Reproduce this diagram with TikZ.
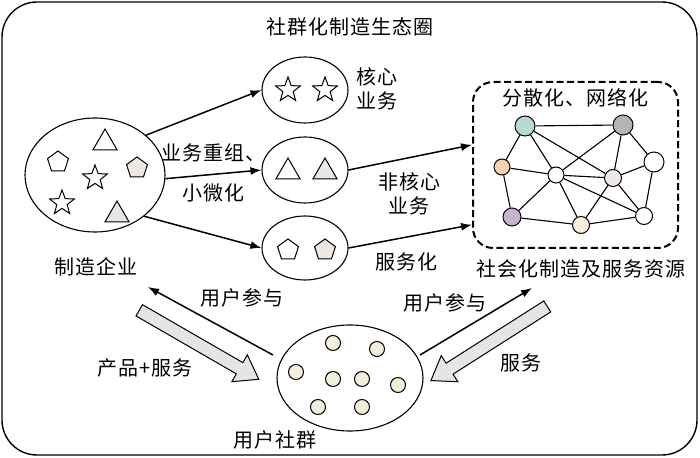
\documentclass[tikz,border=0pt]{standalone}
\usepackage{fontspec}
\setmainfont[LetterSpace=5]{Noto Sans CJK SC}
\usetikzlibrary{shapes.geometric,shapes.arrows,arrows.meta,calc}

\definecolor{nteal}{HTML}{B6D9D3}
\definecolor{ngray}{HTML}{B8B3AE}
\definecolor{norange}{HTML}{F5D2AC}
\definecolor{npink}{HTML}{EEE6E7}
\definecolor{npurple}{HTML}{C5B6CF}
\definecolor{ncream}{HTML}{F6EFDA}
\definecolor{udot}{HTML}{F2EEDC}
\definecolor{shadegray}{HTML}{E6E6E3}
\definecolor{shadepink}{HTML}{EFE6E6}

\begin{document}
\begin{tikzpicture}[x=1pt,y=1pt,font=\fontsize{20}{24}\selectfont,
    blob/.style={draw,ellipse,line width=1.1pt,inner sep=0pt},
    tri/.style={draw,regular polygon,regular polygon sides=3,minimum size=28pt,inner sep=0pt,line width=1pt},
    pent/.style={draw,regular polygon,regular polygon sides=5,minimum size=22pt,inner sep=0pt,line width=1pt},
    starr/.style={draw,star,star points=5,star point ratio=2.4,minimum size=26pt,inner sep=0pt,line width=1pt},
    dot/.style={draw,circle,inner sep=0pt,line width=1pt},
    link/.style={line width=1.5pt,-{Latex[length=11pt,width=8pt]}},
    fat/.style={draw,single arrow,fill=black!10,line width=1pt,inner sep=6pt,minimum height=138pt,
                single arrow head extend=9pt,single arrow tip angle=70}]
    \useasboundingbox (0,0) rectangle (700,457);
    \draw[line width=1.4pt,rounded corners=35pt] (2,2) rectangle (697,455);
    \node (title) at (350,430) {社群化制造生态圈};

    % manufacturing firm
    \node[blob,minimum width=140pt,minimum height=114pt] (firm) at (95,282) {};
    \node[pent] (fp1) at (58,295) {};
    \node[tri] (ft1) at (105,314) {};
    \node[starr] (fs1) at (95,279) {};
    \node[pent,fill=shadepink] (fp2) at (137,289) {};
    \node[starr] (fs2) at (62,254) {};
    \node[tri,fill=shadegray] (ft2) at (117,242) {};
    \node (firmlab) at (96,190) {制造企业};

    % split businesses
    \node[blob,minimum width=86pt,minimum height=66pt] (core) at (305,367) {};
    \node[blob,minimum width=86pt,minimum height=66pt] (tri) at (305,287) {};
    \node[blob,minimum width=86pt,minimum height=64pt] (svc) at (305,209) {};
    \foreach \x in {288,325} \node[starr] (cs\x) at (\x,367) {};
    \node[tri] (tt1) at (288,285) {};
    \node[tri,fill=shadegray] (tt2) at (325,285) {};
    \node[pent] (sp1) at (288,207) {};
    \node[pent,fill=shadepink] (sp2) at (325,207) {};
    \node[align=left] (corelab) at (377,368) {核心\\业务};

    \draw[link] (firm.38) -- (core.west);
    \draw[link] (firm.-3) -- (tri.west);
    \draw[link] (firm.-40) -- (svc.west);
    \node (reorg) at (213,304) {业务重组、};
    \node (small) at (213,264) {小微化};

    % network of resources
    \node[draw,dashed,line width=2pt,dash pattern=on 7pt off 3.5pt,rounded corners=20pt,
          minimum width=205pt,minimum height=166pt] (net) at (575.5,292) {};
    \node (netlab) at (575,359) {分散化、网络化};
    \foreach \n/\x/\y/\d/\c in {a/525/331/20/nteal, b/623/332/20/ngray, c/654/295/20/white,
        d/502/290/16/norange, e/556/282/16/white, f/613/279/17/npink,
        g/512/240/18/npurple, h/581/232/17/ncream, i/644/241/17/white}
        \node[dot,fill=\c,minimum size=\d pt] (\n) at (\x,\y) {};
    \foreach \u/\v in {a/b,a/d,a/e,a/f,b/e,b/f,b/c,c/f,c/i,d/e,d/g,e/f,e/g,e/h,e/i,f/h,f/i,g/h,h/i}
        \draw[line width=1.1pt] (\u) -- (\v);
    \node (reslab) at (581,188) {社会化制造及服务资源};

    \draw[link] (tri.east) -- (net.169);
    \draw[link] (svc.east) -- (net.210);
    \node[align=center] (noncore) at (409,263) {非核心\\业务};
    \node (svclab) at (406,195) {服务化};

    % user community
    \node[blob,minimum width=146pt,minimum height=106pt] (users) at (350,79) {};
    \foreach \x/\y [count=\k] in {333/114,377/108,296/85,333/78,362/78,398/72,318/50,362/50}
        \node[dot,fill=udot,minimum size=15pt] (u\k) at (\x,\y) {};
    \node (userlab) at (275,17) {用户社群};

    % flows
    \coordinate (pl0) at (273,102);
    \coordinate (pl1) at (148,170);
    \coordinate (pr0) at (420,102);
    \coordinate (pr1) at (532,169);
    \draw[link] (pl0) -- (pl1);
    \draw[link] (pr0) -- (pr1);
    \node (joinL) at (242,159) {用户参与};
    \node (joinR) at (445,154) {用户参与};
    \node[fat,rotate=-30] (prod) at (195,114.5) {};
    \node[fat,rotate=212.5] (serv) at (493,116) {};
    \node (prodlab) at (145,89) {产品+服务};
    \node (servlab) at (521,94) {服务};
\end{tikzpicture}
\end{document}
